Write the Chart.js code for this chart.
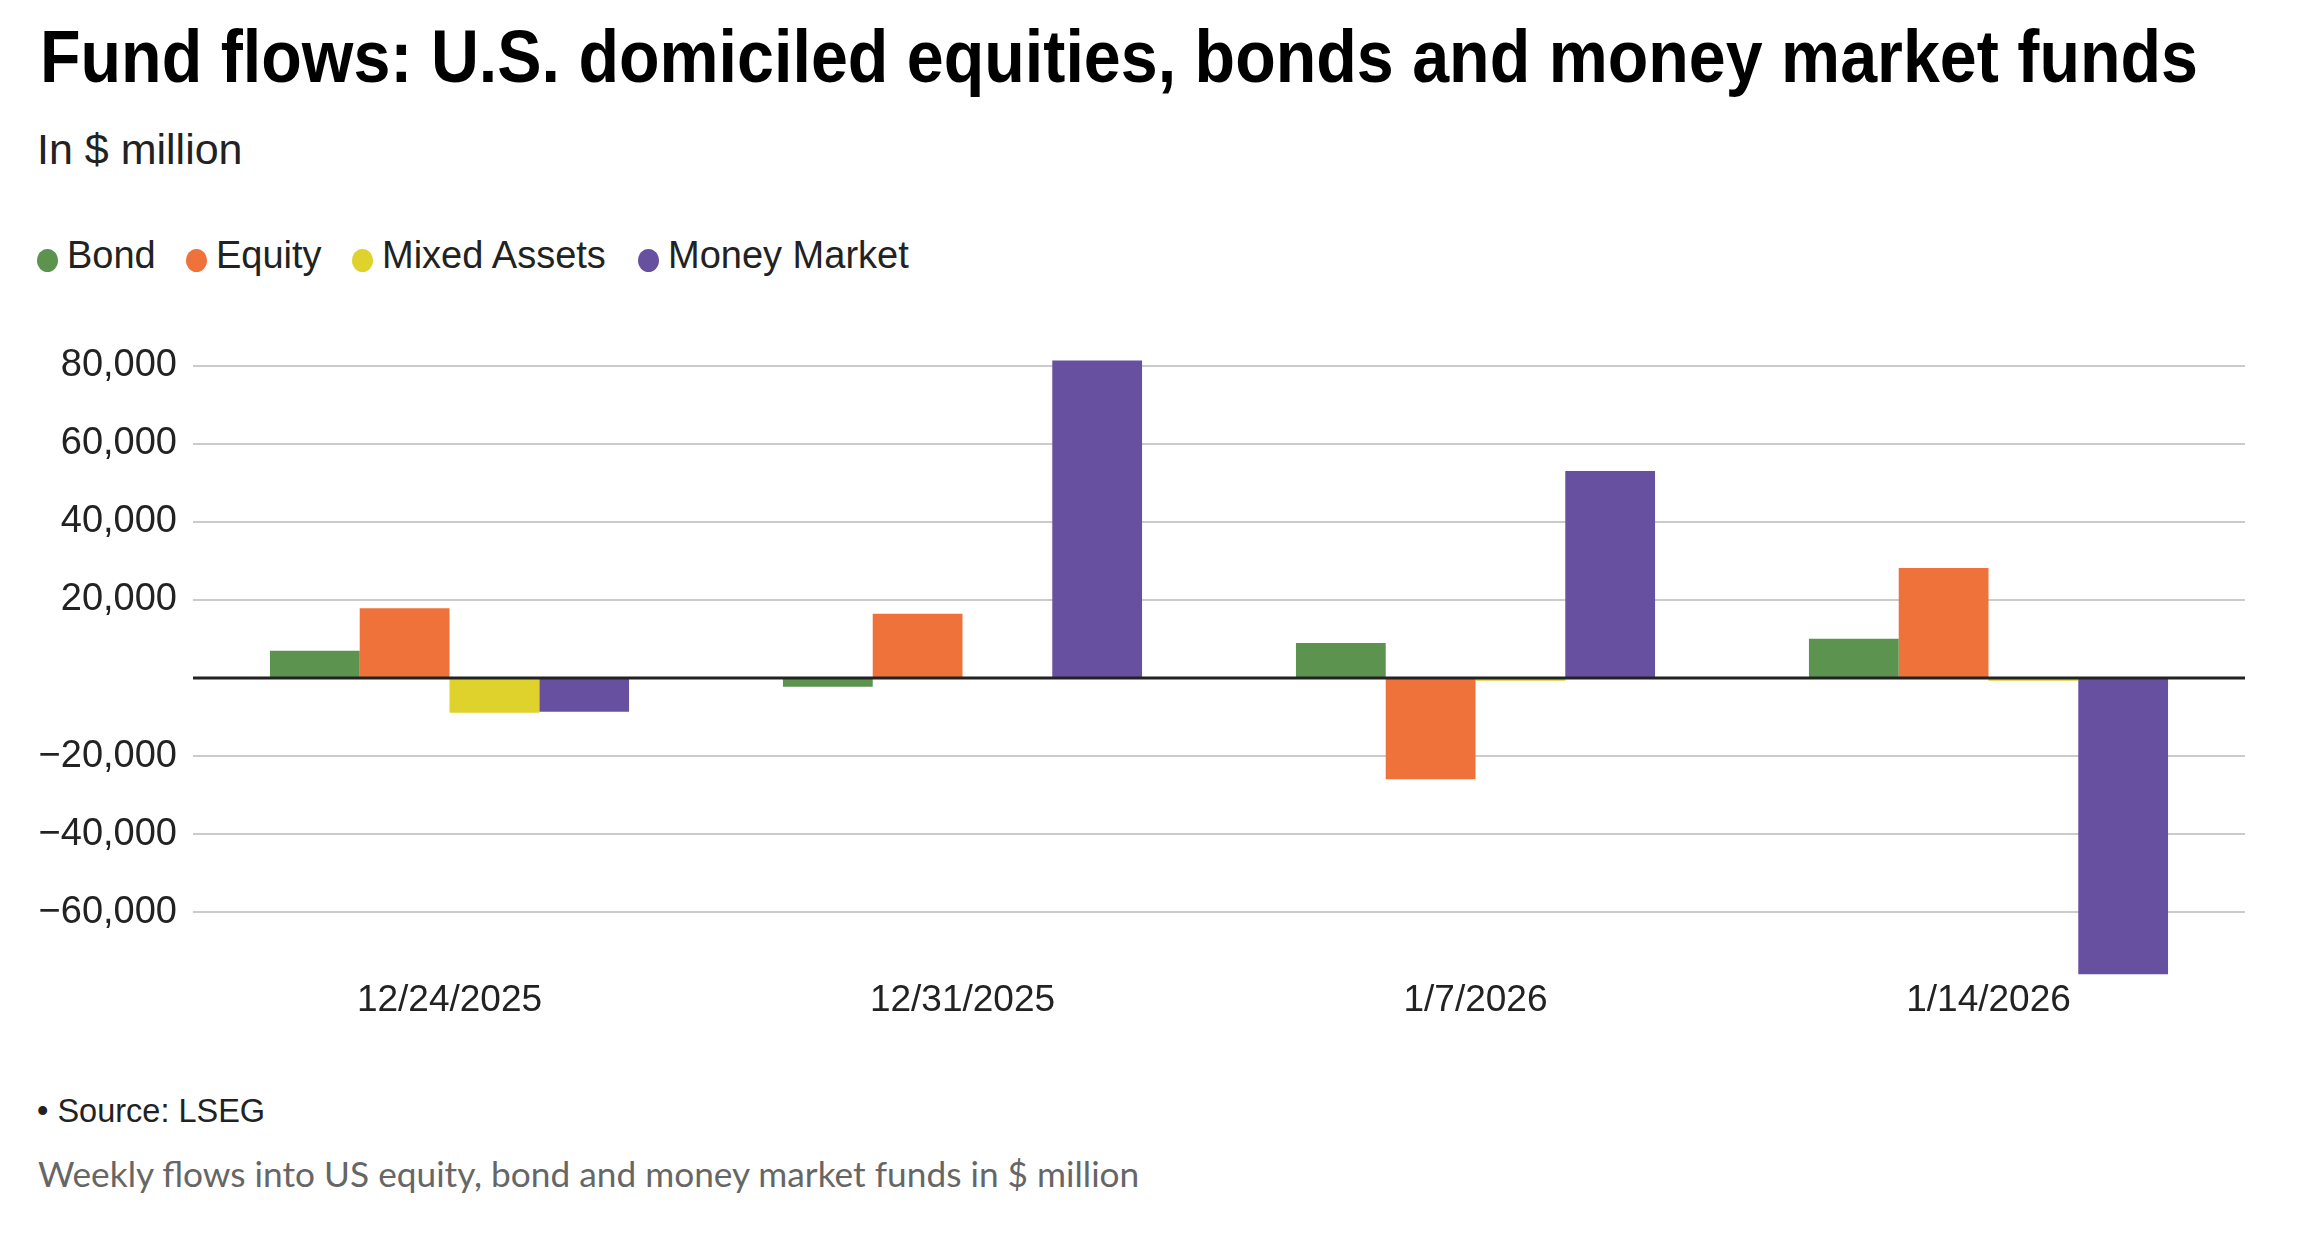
<!DOCTYPE html>
<html>
<head>
<meta charset="utf-8">
<script src="https://cdn.jsdelivr.net/npm/chart.js@4.4.1/dist/chart.umd.min.js"></script>
<style>
    body { margin: 0; background: #fff; width: 2304px; height: 1238px; overflow: hidden; position: relative; }
    .txt { position: absolute; white-space: nowrap; margin: 0; transform-origin: 0 0; }
    #title { font: bold 75px "Liberation Sans", Arial, sans-serif; color: #000; }
    #subtitle { font: 43px "Liberation Sans", Arial, sans-serif; color: #222; }
    .leg { position: absolute; font: 38px "Liberation Sans", Arial, sans-serif; color: #222; white-space: nowrap; }
    .dot { position: absolute; width: 21px; height: 23px; border-radius: 50%; }
    #source { font: 32.5px "Liberation Sans", Arial, sans-serif; color: #222; }
    #note { font: 35px Lato, "Open Sans", sans-serif; color: #666; }
    #chart { position: absolute; left: 0; top: 319px; }
</style>
</head>
<body>
<div id="title" class="txt">Fund flows: U.S. domiciled equities, bonds and money market funds</div>
<div id="subtitle" class="txt">In $ million</div>
<div id="legend"></div>
<canvas id="chart" width="2304" height="716"></canvas>
<div id="source" class="txt">• Source: LSEG</div>
<div id="note" class="txt">Weekly flows into US equity, bond and money market funds in $ million</div>
<script>
const CATEGORIES = ['12/24/2025', '12/31/2025', '1/7/2026', '1/14/2026'];
const SERIES = ['Bond', 'Equity', 'Mixed Assets', 'Money Market'];
const BOND = [7000, -2200, 9000, 10100];
const EQUITY = [17900, 16500, -25900, 28200];
const MIXED = [-8850, 0, -650, -650];
const MONEY = [-8600, 81300, 53000, -75800];
const Y_TICKS = [-60000, -40000, -20000, 0, 20000, 40000, 60000, 80000];

const COLORS = ['#5b934f', '#ee7239', '#e0d22d', '#6850a0'];
const FONT = '"Liberation Sans", Arial, sans-serif';

// put a text element so its baseline sits at y, optionally squeezed to a width
const mctx = document.createElement('canvas').getContext('2d');
function place(el, left, baseline, fitWidth) {
    const cs = getComputedStyle(el);
    const size = parseFloat(cs.fontSize);
    mctx.font = cs.fontWeight + ' ' + cs.fontSize + ' ' + cs.fontFamily;
    const m = mctx.measureText(el.textContent);
    const asc = m.fontBoundingBoxAscent, desc = m.fontBoundingBoxDescent;
    el.style.lineHeight = size + 'px';
    el.style.left = left + 'px';
    el.style.top = (baseline - ((size - asc - desc) / 2 + asc)) + 'px';
    if (fitWidth) el.style.transform = 'scaleX(' + (fitWidth / m.width) + ')';
}

place(document.getElementById('title'), 40, 82, 2158);
place(document.getElementById('subtitle'), 37, 164);
place(document.getElementById('source'), 37, 1122);
place(document.getElementById('note'), 38, 1187, 1103);

// legend
const LEGEND_X = [47, 196, 362, 648];
const legend = document.getElementById('legend');
SERIES.forEach((name, i) => {
    const dot = document.createElement('span');
    dot.className = 'dot';
    dot.style.background = COLORS[i];
    dot.style.left = (LEGEND_X[i] - 10.5) + 'px';
    dot.style.top = '249px';
    legend.appendChild(dot);
    const lab = document.createElement('span');
    lab.className = 'leg';
    lab.textContent = name;
    legend.appendChild(lab);
    place(lab, LEGEND_X[i] + 20, 268);
});

const zeroLine = {
    id: 'zeroLine',
    afterDatasetsDraw(chart) {
        const { ctx, chartArea } = chart;
        const y = chart.scales.y.getPixelForValue(0);
        ctx.save();
        ctx.strokeStyle = '#222';
        ctx.lineWidth = 3;
        ctx.beginPath();
        ctx.moveTo(chartArea.left, y);
        ctx.lineTo(chartArea.right, y);
        ctx.stroke();
        ctx.restore();
    }
};

const values = [BOND, EQUITY, MIXED, MONEY];
const data = {
    labels: CATEGORIES,
    datasets: SERIES.map((name, i) => ({
        label: name,
        data: values[i],
        backgroundColor: COLORS[i],
        borderWidth: 0,
        categoryPercentage: 0.7,
        barPercentage: 1.0
    }))
};

const CHART = document.getElementById('chart');
const config = new Chart(CHART, {
    type: 'bar',
    data: data,
    plugins: [zeroLine],
    options: {
        responsive: false,
        animation: false,
        layout: { padding: { top: 0, right: 59, left: 0, bottom: 0 } },
        plugins: {
            legend: { display: false },
            tooltip: { enabled: false }
        },
        scales: {
            x: {
                grid: { display: false, drawTicks: false },
                border: { display: false },
                ticks: { color: '#222', font: { family: FONT, size: 37 }, padding: 4, maxRotation: 0 },
                afterFit(scale) { scale.height = 60; }
            },
            y: {
                min: -76000,
                max: 82000,
                afterBuildTicks(scale) { scale.ticks = Y_TICKS.map(v => ({ value: v })); },
                afterFit(scale) { scale.width = 193; },
                border: { display: false },
                grid: { color: '#cbcbcb', lineWidth: 2, drawTicks: false },
                ticks: {
                    color: '#222',
                    font: { family: FONT, size: 38 },
                    padding: 16,
                    callback(v) {
                        if (v === 0) return '';
                        const s = Math.abs(v).toLocaleString('en-US');
                        return v < 0 ? '\u2212' + s : s;
                    }
                }
            }
        }
    }
});
</script>
</body>
</html>
